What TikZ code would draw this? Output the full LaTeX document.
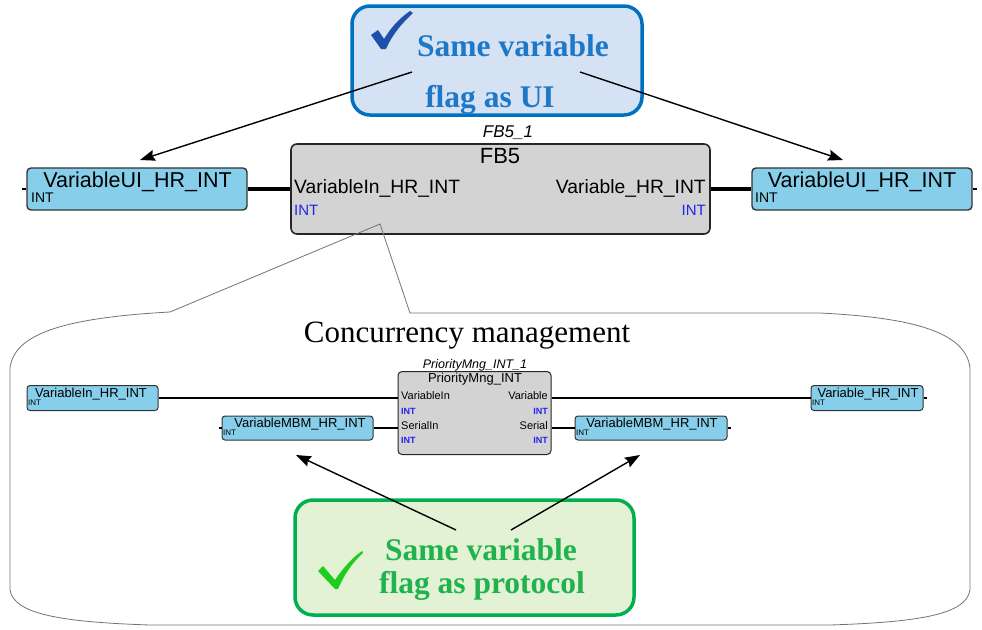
\documentclass[tikz,border=0pt]{standalone}
\usepackage{fontspec}
\setmainfont{Liberation Serif}
\setsansfont{Liberation Sans}
\usetikzlibrary{positioning, arrows.meta}
\definecolor{skyfill}{RGB}{135,206,235}
\definecolor{fbgray}{RGB}{211,211,211}
\definecolor{intblue}{RGB}{35,35,235}
\definecolor{uiblue}{RGB}{30,120,200}
\definecolor{uiborder}{RGB}{0,112,192}
\definecolor{uifill}{RGB}{213,226,243}
\definecolor{uicheck}{RGB}{28,80,170}
\definecolor{prgreen}{RGB}{32,178,76}
\definecolor{prborder}{RGB}{0,176,80}
\definecolor{prfill}{RGB}{227,242,213}
\definecolor{prcheck}{RGB}{30,205,30}
\newcommand{\sz}[1]{\fontsize{#1}{#1}\selectfont}
\tikzset{
varbox/.style={draw=black!80, fill=skyfill, line width=1.4pt, rounded corners=4pt, inner sep=0pt},
fbbox/.style={draw=black!85, fill=fbgray, line width=1.6pt, rounded corners=6pt, inner sep=0pt},
notebox/.style={line width=3.5pt, rounded corners=18pt, inner sep=0pt},
txt/.style={inner sep=0pt, font=\sffamily},
wire/.style={line width=3.6pt},
thinwire/.style={line width=2pt},
pin/.style={line width=2.2pt},
pointer/.style={line width=1.4pt, -{Stealth[length=15pt, width=11pt, inset=2pt]}},
zoomline/.style={draw=black!55, line width=0.8pt},
}

\begin{document}
\begin{tikzpicture}[x=1pt, y=-1pt]
\useasboundingbox (0,0) rectangle (982,629);

% FB5 level
\node[fbbox, minimum width=419pt, minimum height=90pt] (fb) at (500.5,189) {};
\node[txt, font=\sffamily\itshape\sz{17}, anchor=base] (fbinst) at (508,137) {FB5\_1};
\node[txt, font=\sffamily\sz{22}, anchor=base] (fbname) at (500,163) {FB5};
\node[txt, font=\sffamily\sz{19.3}, anchor=base west] (fbin) at (294,193) {VariableIn\_HR\_INT};
\node[txt, font=\sffamily\sz{15}, text=intblue, anchor=base west] (fbinty) at (294,215) {INT};
\node[txt, font=\sffamily\sz{19.3}, anchor=base east] (fbout) at (706,193) {Variable\_HR\_INT};
\node[txt, font=\sffamily\sz{15}, text=intblue, anchor=base east] (fboutty) at (706,215) {INT};

\node[varbox, minimum width=220pt, minimum height=42pt] (uiin) at (137,189) {};
\node[txt, font=\sffamily\sz{21.5}, anchor=base] (uiintxt) at (137.5,187) {VariableUI\_HR\_INT};
\node[txt, font=\sffamily\sz{14}, anchor=base west] (uiinty) at (31,202) {INT};
\node[varbox, minimum width=220pt, minimum height=42pt] (uiout) at (862,189) {};
\node[txt, font=\sffamily\sz{21.5}, anchor=base] (uiouttxt) at (862,187) {VariableUI\_HR\_INT};
\node[txt, font=\sffamily\sz{14}, anchor=base west] (uioutty) at (755,202) {INT};

\draw[wire] (uiin) -- (fb);
\draw[wire] (fb) -- (uiout);
\draw[pin] (uiin.west) -- ++(-4,0);
\draw[pin] (uiout.east) -- ++(4,0);

% zoomed callout
\coordinate (zoomtip) at (380,224);
\draw[zoomline] (zoomtip) -- (170,312) .. controls (60,318) and (14,335) .. (10,368)
  -- (10,590) .. controls (14,614) and (60,622) .. (150,625) -- (830,625)
  .. controls (922,622) and (966,614) .. (970,590) -- (970,368)
  .. controls (966,335) and (922,318) .. (820,313) -- (410,313) -- cycle;
\node[font=\sz{31}, inner sep=0pt, anchor=base] (zoomtitle) at (467,342) {Concurrency management};

% PriorityMng level
\node[fbbox, line width=1pt, rounded corners=4pt, minimum width=153pt, minimum height=83pt] (pm) at (474.5,413) {};
\node[txt, font=\sffamily\itshape\sz{12.5}, anchor=base] (pminst) at (475,368) {PriorityMng\_INT\_1};
\node[txt, font=\sffamily\sz{13}, anchor=base] (pmname) at (475,382) {PriorityMng\_INT};
\node[txt, font=\sffamily\sz{11}, anchor=base west] (pmvin) at (401,399) {VariableIn};
\node[txt, font=\sffamily\bfseries\sz{9}, text=intblue, anchor=base west] (pmvinty) at (401,414) {INT};
\node[txt, font=\sffamily\sz{11}, anchor=base west] (pmsin) at (401,429) {SerialIn};
\node[txt, font=\sffamily\bfseries\sz{9}, text=intblue, anchor=base west] (pmsinty) at (401,443) {INT};
\node[txt, font=\sffamily\sz{11}, anchor=base east] (pmvout) at (548,399) {Variable};
\node[txt, font=\sffamily\bfseries\sz{9}, text=intblue, anchor=base east] (pmvoutty) at (548,414) {INT};
\node[txt, font=\sffamily\sz{11}, anchor=base east] (pmsout) at (548,429) {Serial};
\node[txt, font=\sffamily\bfseries\sz{9}, text=intblue, anchor=base east] (pmsoutty) at (548,443) {INT};

\node[varbox, line width=1pt, rounded corners=3pt, minimum width=131pt, minimum height=25pt] (vin) at (92.5,398) {};
\node[txt, font=\sffamily\sz{13}, anchor=base] (vintxt) at (91,397) {VariableIn\_HR\_INT};
\node[txt, font=\sffamily\sz{8}, anchor=base west] (vinty) at (28,405) {INT};
\node[varbox, line width=1pt, rounded corners=3pt, minimum width=151pt, minimum height=24pt] (mbmin) at (297.5,428) {};
\node[txt, font=\sffamily\sz{13}, anchor=base] (mbmintxt) at (300,427) {VariableMBM\_HR\_INT};
\node[txt, font=\sffamily\sz{8}, anchor=base west] (mbminty) at (223,435) {INT};
\node[varbox, line width=1pt, rounded corners=3pt, minimum width=152pt, minimum height=24pt] (mbmout) at (651,428) {};
\node[txt, font=\sffamily\sz{13}, anchor=base] (mbmouttxt) at (652,427) {VariableMBM\_HR\_INT};
\node[txt, font=\sffamily\sz{8}, anchor=base west] (mbmoutty) at (576,435) {INT};
\node[varbox, line width=1pt, rounded corners=3pt, minimum width=112pt, minimum height=25pt] (vout) at (867,398) {};
\node[txt, font=\sffamily\sz{13}, anchor=base] (vouttxt) at (868,397) {Variable\_HR\_INT};
\node[txt, font=\sffamily\sz{8}, anchor=base west] (voutty) at (812,405) {INT};

\draw[thinwire] (vin.east) -- (pm.west |- vin.east);
\draw[thinwire] (mbmin.east) -- (pm.west |- mbmin.east);
\draw[thinwire] (pm.east |- vout.west) -- (vout.west);
\draw[thinwire] (pm.east |- mbmout.west) -- (mbmout.west);
\draw[pin] (mbmin.west) -- ++(-3,0);
\draw[pin] (mbmout.east) -- ++(3,0);
\draw[pin] (vout.east) -- ++(3,0);

% UI note
\node[notebox, draw=uiborder, fill=uifill, minimum width=290pt, minimum height=109pt] (uinote) at (497,60.5) {};
\node[font=\bfseries\sz{31.5}, text=uiblue, inner sep=0pt, anchor=base] (uinote1) at (513,56) {Same variable};
\node[font=\bfseries\sz{31.5}, text=uiblue, inner sep=0pt, anchor=base] (uinote2) at (490,107) {flag as UI};
\fill[uicheck] (371,35) -- (378,30) -- (384,39) .. controls (392,26) and (400,18) .. (410,11)
  -- (413,13) .. controls (402,23) and (392,35) .. (386,49) -- (381,49) -- cycle;

% protocol note
\node[notebox, draw=prborder, fill=prfill, minimum width=339pt, minimum height=115pt] (prnote) at (464.5,557.5) {};
\node[font=\bfseries\sz{31.5}, text=prgreen, inner sep=0pt, anchor=base] (prnote1) at (481,560) {Same variable};
\node[font=\bfseries\sz{31.5}, text=prgreen, inner sep=0pt, anchor=base] (prnote2) at (482,593) {flag as protocol};
\fill[prcheck] (318,571) -- (323,566) -- (335,580) .. controls (343,568) and (352,558) .. (362,551)
  -- (363,553) .. controls (352,563) and (344,575) .. (338,589) -- (335,589) -- cycle;

% pointers
\coordinate (uifrom1) at (412,72);
\coordinate (uito1) at (140,160);
\coordinate (uifrom2) at (580,72);
\coordinate (uito2) at (843,160);
\coordinate (prfrom1) at (456,530);
\coordinate (prto1) at (296,455);
\coordinate (prfrom2) at (511,530);
\coordinate (prto2) at (640,455);
\draw[pointer] (uifrom1) -- (uito1);
\draw[pointer] (uifrom2) -- (uito2);
\draw[pointer] (prfrom1) -- (prto1);
\draw[pointer] (prfrom2) -- (prto2);
\end{tikzpicture}
\end{document}
